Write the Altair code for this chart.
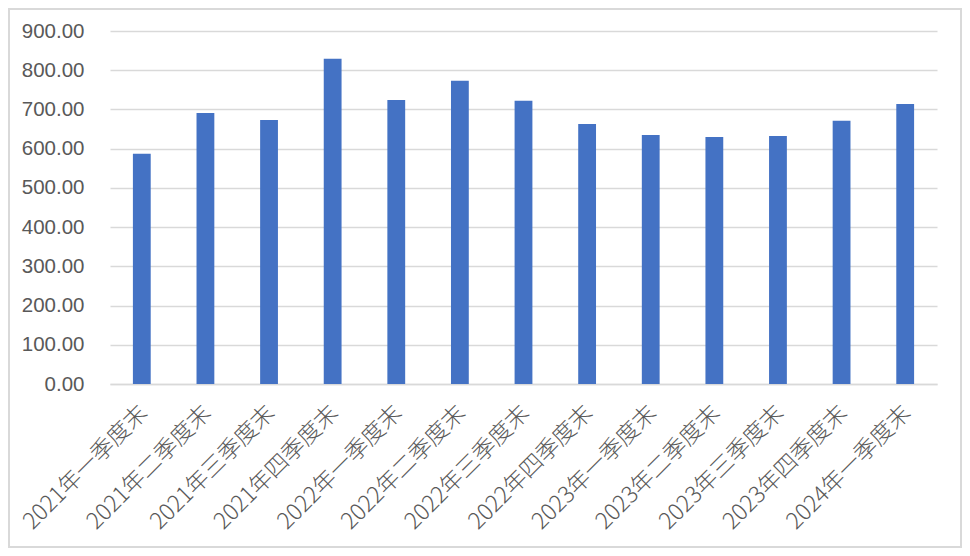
import altair as alt
import pandas as pd

categories = ["2021年一季度末", "2021年二季度末", "2021年三季度末", "2021年四季度末",
              "2022年一季度末", "2022年二季度末", "2022年三季度末", "2022年四季度末",
              "2023年一季度末", "2023年二季度末", "2023年三季度末", "2023年四季度末",
              "2024年一季度末"]
values = [587, 691, 673, 829, 724, 773, 722, 663, 635, 630, 632, 671, 714]
y_ticks = [0, 100, 200, 300, 400, 500, 600, 700, 800, 900]

df = pd.DataFrame({"cat": categories, "val": values})

bars = alt.Chart(df).mark_bar(color="#4472C4").encode(
    x=alt.X("cat:N", sort=categories, title=None,
            scale=alt.Scale(paddingInner=0.72, paddingOuter=0.36),
            axis=alt.Axis(labelAngle=-45, labelAlign="right", labelBaseline="middle",
                          labelPadding=25, labelOffset=2, ticks=False, domain=True,
                          domainColor="#d9d9d9", domainWidth=1.5, grid=False,
                          labelFont="Noto Sans CJK SC", labelFontSize=23,
                          labelFontWeight=300,
                          labelColor="#595959", labelLimit=400)),
    y=alt.Y("val:Q", title=None,
            scale=alt.Scale(domain=[0, 900], nice=False),
            axis=alt.Axis(values=y_ticks, format=".2f", domain=False, ticks=False,
                          grid=True, gridColor="#d9d9d9", gridWidth=1.3,
                          labelFont="Liberation Sans", labelFontSize=20.5,
                          labelColor="#595959", labelPadding=26)),
)

frame = alt.Chart(pd.DataFrame({"a": [0]})).mark_rect(
    fillOpacity=0, stroke="#d9d9d9", strokeWidth=2, clip=False
).encode(x=alt.value(-101), x2=alt.value(851), y=alt.value(-22), y2=alt.value(516))

chart = alt.layer(frame, bars).properties(
    width=827, height=353,
    padding={"left": 102, "top": 23, "right": 25, "bottom": 164},
    autosize=alt.AutoSizeParams(type="none"),
    background="white",
).configure_view(stroke=None)

chart.save("out.html", embed_options={"renderer": "svg", "actions": False})
